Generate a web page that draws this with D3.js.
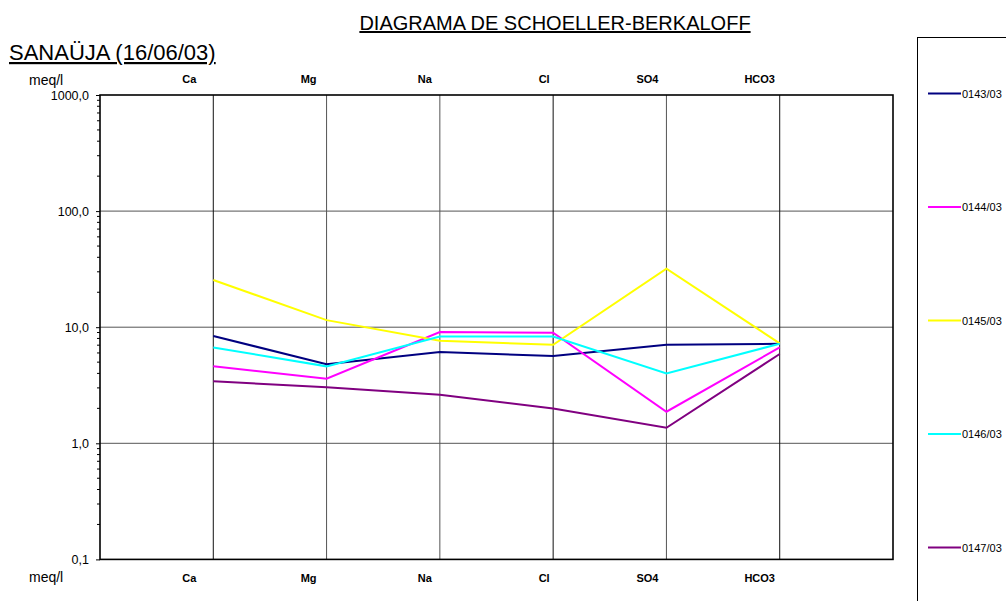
<!DOCTYPE html>
<html>
<head>
<meta charset="utf-8">
<script src="https://cdn.jsdelivr.net/npm/d3@7"></script>
<style>
  body { margin: 0; background: #fff; }
  svg { font-family: "Liberation Sans", Arial, sans-serif; }
</style>
</head>
<body>
<div id="chart"></div>
<script>
// Schoeller-Berkaloff diagram, log scale meq/l

const ions = ['Ca', 'Mg', 'Na', 'Cl', 'SO4', 'HCO3'];
const samples = ['0143/03', '0144/03', '0145/03', '0146/03', '0147/03'];
const colors = ['#000080', '#FF00FF', '#FFFF00', '#00FFFF', '#800080'];

// values (meq/l), in ion order
const s0143 = [8.4, 4.8, 6.1, 5.65, 7.05, 7.2];
const s0144 = [4.6, 3.6, 9.1, 8.95, 1.87, 6.7];
const s0145 = [25.5, 11.5, 7.65, 7.05, 31.9, 7.25];
const s0146 = [6.7, 4.6, 8.3, 8.3, 4.0, 7.2];
const s0147 = [3.42, 3.04, 2.62, 1.99, 1.36, 5.88];
const series = [s0143, s0144, s0145, s0146, s0147];

const yTicks = [0.1, 1, 10, 100, 1000];

const W = 1006, H = 601;
const plotL = 100, plotR = 893, plotT = 95, plotB = 559.4;

// ion header labels sit a little left of their gridline (spreadsheet cells)
const labelShift = [-24, -18, -15, -9, -19, -20];

const svg = d3.select('#chart').append('svg')
  .attr('width', W).attr('height', H);

// x: slots 0..7, ions sit at 1..6
const x = d3.scaleLinear().domain([0, 7]).range([plotL, plotR]);
const y = d3.scaleLog().domain([0.1, 1000]).range([plotB, plotT]);

// horizontal gridlines
svg.append('g')
  .selectAll('line')
  .data(yTicks.slice(1, -1))
  .enter().append('line')
  .attr('x1', plotL).attr('x2', plotR)
  .attr('y1', d => y(d)).attr('y2', d => y(d))
  .attr('stroke', '#555').attr('stroke-width', 1);

// vertical gridlines at each ion
svg.append('g')
  .selectAll('line')
  .data(ions)
  .enter().append('line')
  .attr('x1', (d, i) => x(i + 1)).attr('x2', (d, i) => x(i + 1))
  .attr('y1', plotT).attr('y2', plotB)
  .attr('stroke', (d, i) => (i === 0 || i === 3 || i === 5) ? '#111' : '#555')
  .attr('stroke-width', 1);

// left axis with minor log ticks
const minor = [];
for (let e = -1; e < 3; e++) {
  for (let m = 2; m <= 9; m++) minor.push(m * Math.pow(10, e));
}
svg.append('g')
  .selectAll('line')
  .data(minor)
  .enter().append('line')
  .attr('x1', plotL - 3).attr('x2', plotL)
  .attr('y1', d => y(d)).attr('y2', d => y(d))
  .attr('stroke', '#000');

const yAxis = d3.axisLeft(y)
  .tickValues(yTicks)
  .tickSize(4)
  .tickPadding(7)
  .tickFormat(d => d3.format('.1f')(d).replace('.', ','));
const ga = svg.append('g')
  .attr('transform', 'translate(' + plotL + ',0)')
  .call(yAxis);
ga.select('.domain').remove();
ga.selectAll('text').attr('font-size', 12.5).attr('fill', '#000')
  .attr('font-family', '"Liberation Sans", Arial, sans-serif');

// plot frame
svg.append('rect')
  .attr('x', plotL).attr('y', plotT)
  .attr('width', plotR - plotL).attr('height', plotB - plotT)
  .attr('fill', 'none').attr('stroke', '#000').attr('stroke-width', 1.6);

// series lines
const line = d3.line()
  .x((d, i) => x(i + 1))
  .y(d => y(d));

svg.append('g')
  .selectAll('path')
  .data(series)
  .enter().append('path')
  .attr('d', line)
  .attr('fill', 'none')
  .attr('stroke', (d, i) => colors[i])
  .attr('stroke-width', 2);

// ion labels top and bottom
[83, 581.5].forEach(yy => {
  svg.append('g')
    .selectAll('text')
    .data(ions)
    .enter().append('text')
    .attr('x', (d, i) => x(i + 1) + labelShift[i])
    .attr('y', yy)
    .attr('text-anchor', 'middle')
    .attr('font-size', 11)
    .attr('font-weight', 'bold')
    .text(d => d);
});

svg.append('text').attr('x', 29).attr('y', 85)
  .attr('font-size', 14).text('meq/l');
svg.append('text').attr('x', 29).attr('y', 582)
  .attr('font-size', 14).text('meq/l');

// titles
svg.append('text')
  .attr('x', 555).attr('y', 30)
  .attr('text-anchor', 'middle')
  .attr('font-size', 20)
  .attr('text-decoration', 'underline')
  .text('DIAGRAMA DE SCHOELLER-BERKALOFF');

svg.append('text')
  .attr('x', 9).attr('y', 60)
  .attr('font-size', 22)
  .attr('text-decoration', 'underline')
  .text('SANAÜJA (16/06/03)');

// legend
svg.append('rect')
  .attr('x', 917.5).attr('y', 37.5)
  .attr('width', 100).attr('height', 600)
  .attr('fill', 'none').attr('stroke', '#000').attr('stroke-width', 1);

const legendY = d3.scalePoint().domain(samples).range([93.5, 547.5]);
const lg = svg.append('g')
  .selectAll('g')
  .data(samples)
  .enter().append('g')
  .attr('transform', d => 'translate(0,' + legendY(d) + ')');
lg.append('line')
  .attr('x1', 928).attr('x2', 961)
  .attr('stroke', (d, i) => colors[i]).attr('stroke-width', 2);
lg.append('text')
  .attr('x', 962).attr('y', 4)
  .attr('font-size', 11)
  .text(d => d);
</script>
</body>
</html>
